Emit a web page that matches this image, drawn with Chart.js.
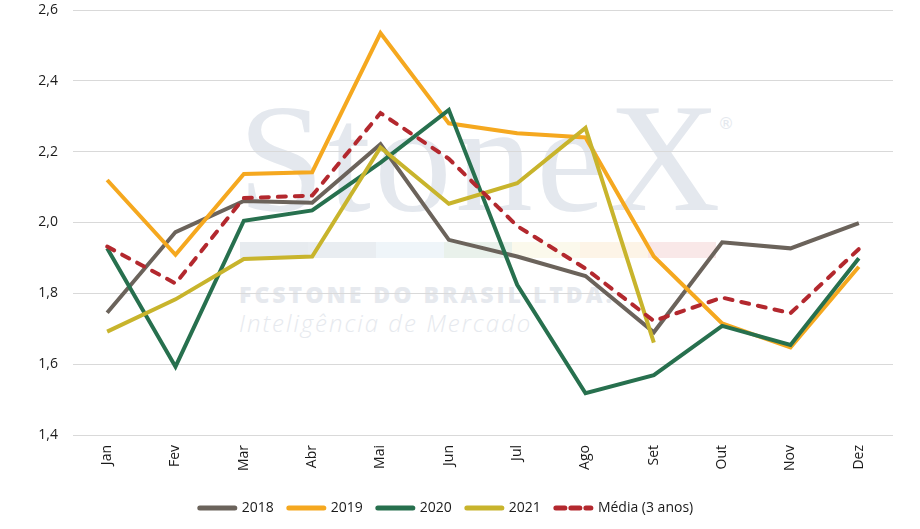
<!DOCTYPE html>
<html>
<head>
<meta charset="utf-8">
<script src="https://cdn.jsdelivr.net/npm/chart.js@4/dist/chart.umd.min.js"></script>
<style>
  html, body { margin: 0; padding: 0; background: #ffffff; }
  #wrap { position: relative; width: 920px; height: 529px; overflow: hidden; }
  #chart { position: absolute; left: 0; top: 0; z-index: 2; }
  .wm { position: absolute; z-index: 1; white-space: nowrap; }
  #wm-logo { left: 238px; top: 81px; font-family: "Liberation Serif", serif; font-size: 155px; line-height: 1; color: #e4e8ee; letter-spacing: 3.5px; }
  #wm-reg { left: 718px; top: 114px; font-family: "DejaVu Sans", sans-serif; font-size: 16px; color: #e4e8ee; }
  #wm-bar { left: 240px; top: 242px; height: 16px; display: flex; }
  #wm-bar div { width: 68px; height: 16px; }
  #wm-co { left: 239px; top: 283px; font-family: "Open Sans", sans-serif; font-weight: 800; font-size: 23px; line-height: 1; color: #e6e9ee; letter-spacing: 3px; }
  #wm-sub { left: 239px; top: 311px; font-family: "Open Sans", sans-serif; font-style: italic; font-weight: 300; font-size: 24px; line-height: 1; color: #e6e9ee; letter-spacing: 2px; }
</style>
</head>
<body>
<div id="wrap">
  <div class="wm" id="wm-logo">StoneX</div>
  <div class="wm" id="wm-reg">®</div>
  <div class="wm" id="wm-bar">
    <div style="background:#e7ebef"></div>
    <div style="background:#e9edf1"></div>
    <div style="background:#eff5f9"></div>
    <div style="background:#e9f1eb"></div>
    <div style="background:#fbf9ec"></div>
    <div style="background:#fdf4e7"></div>
    <div style="background:#f9e8e8"></div>
  </div>
  <div class="wm" id="wm-co">FCSTONE DO BRASIL LTDA.</div>
  <div class="wm" id="wm-sub">Inteligência de Mercado</div>
  <canvas id="chart" width="920" height="529"></canvas>
</div>
<script>
const months = ["Jan","Fev","Mar","Abr","Mai","Jun","Jul","Ago","Set","Out","Nov","Dez"];
const s2018 = [1.745, 1.973, 2.061, 2.056, 2.221, 1.951, 1.904, 1.849, 1.690, 1.944, 1.927, 1.998];
const s2019 = [2.120, 1.909, 2.137, 2.142, 2.535, 2.280, 2.252, 2.240, 1.904, 1.715, 1.647, 1.875];
const s2020 = [1.927, 1.593, 2.005, 2.034, 2.169, 2.318, 1.824, 1.518, 1.569, 1.708, 1.654, 1.899];
const s2021 = [1.692, 1.783, 1.897, 1.904, 2.212, 2.053, 2.111, 2.267, 1.661, null, null, null];
const sMedia = [1.932, 1.828, 2.069, 2.076, 2.309, 2.180, 1.990, 1.870, 1.722, 1.788, 1.744, 1.925];
const yTicks = [1.4, 1.6, 1.8, 2.0, 2.2, 2.4, 2.6];

const FONT = "'Open Sans', sans-serif";

function lineDs(label, data, color, order, extra) {
  return Object.assign({
    label: label,
    data: data,
    borderColor: color,
    backgroundColor: color,
    borderWidth: 4,
    pointRadius: 0,
    pointHoverRadius: 0,
    tension: 0,
    fill: false,
    spanGaps: false,
    order: order,
    borderJoinStyle: 'miter'
  }, extra || {});
}

new Chart(document.getElementById('chart'), {
  type: 'line',
  data: {
    labels: months,
    datasets: [
      lineDs('2018', s2018, '#6b635b', 5),
      lineDs('2019', s2019, '#f5a81f', 4),
      lineDs('2020', s2020, '#27704e', 3),
      lineDs('2021', s2021, '#c8b42c', 2),
      lineDs('Média (3 anos)', sMedia, '#b3282e', 1, { borderDash: [8, 9], borderCapStyle: 'round' })
    ]
  },
  options: {
    responsive: false,
    animation: false,
    events: [],
    layout: { padding: { top: 0, right: 27, bottom: 4, left: 0 } },
    plugins: {
      tooltip: { enabled: false },
      legend: {
        position: 'bottom',
        labels: {
          usePointStyle: true,
          pointStyle: 'line',
          pointStyleWidth: 35,
          boxHeight: 14,
          padding: 15,
          color: '#1a1a1a',
          font: { family: FONT, size: 14 },
          sort: (a, b) => a.datasetIndex - b.datasetIndex,
          generateLabels: (chart) => chart.data.datasets.map((ds, i) => ({
            text: ds.label,
            datasetIndex: i,
            fillStyle: ds.borderColor,
            strokeStyle: ds.borderColor,
            lineWidth: 5,
            lineCap: 'round',
            lineDash: ds.borderDash ? [9, 6] : [],
            pointStyle: 'line',
            hidden: false,
            fontColor: '#1a1a1a'
          }))
        }
      }
    },
    scales: {
      x: {
        type: 'category',
        offset: true,
        grid: { display: false, drawTicks: false },
        border: { display: false },
        ticks: {
          minRotation: 90,
          maxRotation: 90,
          padding: 10,
          color: '#1a1a1a',
          font: { family: FONT, size: 14 }
        },
        afterFit: (scale) => { scale.height = 51; }
      },
      y: {
        min: 1.4,
        max: 2.6,
        afterBuildTicks: (scale) => { scale.ticks = yTicks.map(v => ({ value: v })); },
        grid: { color: '#d9d9d9', lineWidth: 1, drawTicks: false },
        border: { display: false },
        ticks: {
          padding: 15,
          color: '#1a1a1a',
          font: { family: FONT, size: 14 },
          callback: (v) => Number(v).toFixed(1).replace('.', ',')
        },
        afterFit: (scale) => { scale.width = 73; scale.paddingTop = 10; scale.paddingBottom = 0; }
      }
    }
  }
});
</script>
</body>
</html>
